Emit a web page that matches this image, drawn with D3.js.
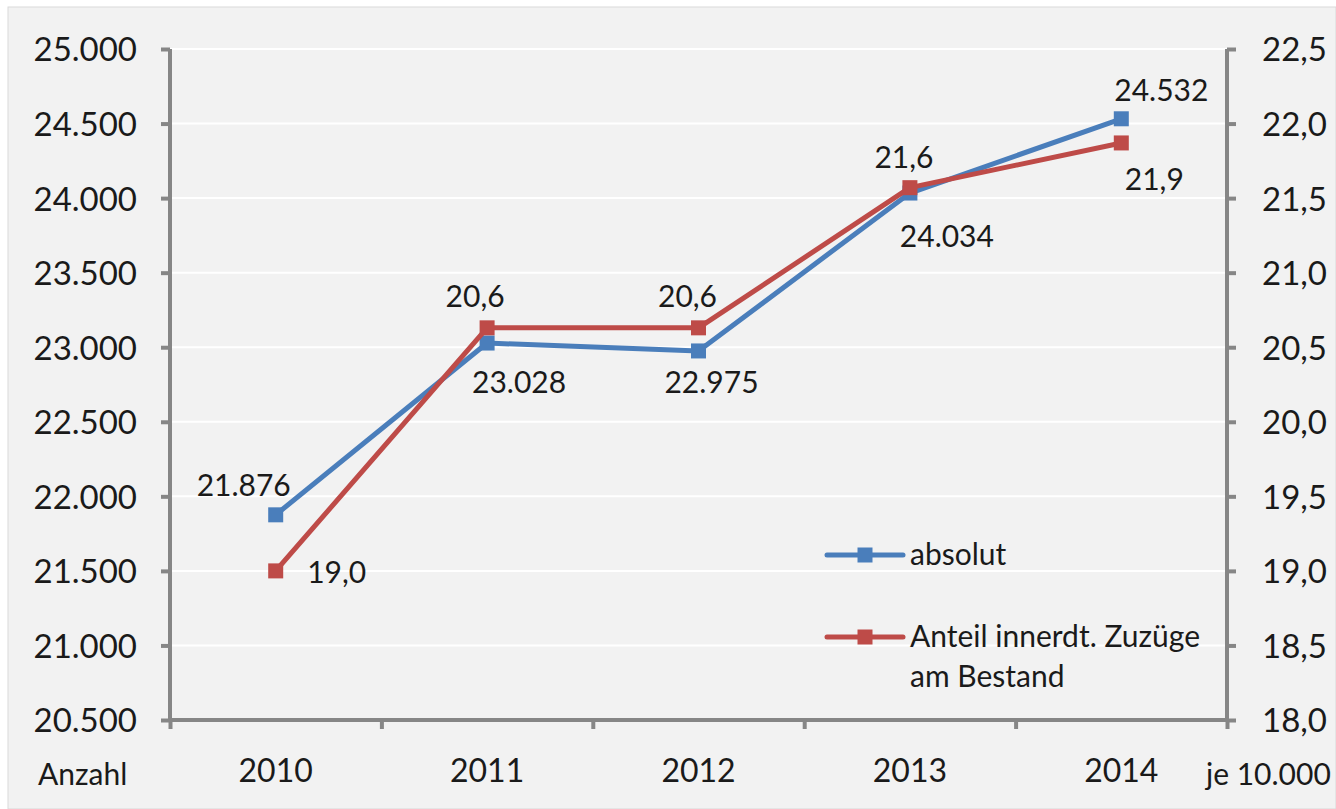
<!DOCTYPE html>
<html>
<head>
<meta charset="utf-8">
<script src="https://cdn.jsdelivr.net/npm/d3@7"></script>
<style>
  html, body { margin: 0; padding: 0; background: #ffffff; }
  svg { display: block; font-family: Lato, "Open Sans", sans-serif; }
</style>
</head>
<body>
<svg id="chart" width="1336" height="809"></svg>
<script>
// Years on the category axis
const years = ["2010", "2011", "2012", "2013", "2014"];
// Absolute number (left axis)
const absolut = [21876, 23028, 22975, 24034, 24532];
// Share of inner-German in-migrations per 10,000 of stock (right axis)
const anteil = [19.0, 20.63, 20.63, 21.57, 21.87];
// Tick values
const leftTicks = [20500, 21000, 21500, 22000, 22500, 23000, 23500, 24000, 24500, 25000];
const rightTicks = [18.0, 18.5, 19.0, 19.5, 20.0, 20.5, 21.0, 21.5, 22.0, 22.5];
// Series names
const seriesNames = ["absolut", "Anteil innerdt. Zuzüge", "am Bestand"];

// Label offsets (dx, dy of label centre from its marker)
const absLabelOffsets = [[-32, -30], [32, 39], [13, 31], [37, 43], [40, -29]];
const antLabelOffsets = [[61, 1], [-12, -32], [-11, -32], [-6, -31], [33, 36]];

const de = d3.formatLocale({ decimal: ",", thousands: ".", grouping: [3], currency: ["", " €"] });
const fmtAbs = de.format(",.0f");
const fmtAnt = de.format(",.1f");

const svg = d3.select("#chart");
const blue = "#4a7ebb", red = "#be4b48", axisGrey = "#868686", textCol = "#1a1a1a";

// Chart area panel
svg.append("rect")
  .attr("x", 8).attr("y", 7).attr("width", 1336 - 8).attr("height", 809 - 7)
  .attr("fill", "#f2f2f2").attr("stroke", "#d9d9d9").attr("stroke-width", 1);

const x0 = 170, x1 = 1227, yTop = 49, yBot = 720;
const x = d3.scaleBand().domain(years).range([x0, x1]);
const yL = d3.scaleLinear().domain([20500, 25000]).range([yBot, yTop]);
const yR = d3.scaleLinear().domain([18, 22.5]).range([yBot, yTop]);
const cx = d => x(d) + x.bandwidth() / 2;

// Horizontal gridlines
svg.append("g").selectAll("line").data(leftTicks).join("line")
  .attr("x1", x0).attr("x2", x1)
  .attr("y1", d => yL(d)).attr("y2", d => yL(d))
  .attr("stroke", "#ffffff").attr("stroke-width", 2);

// Left axis
const gL = svg.append("g").attr("transform", `translate(${x0},0)`)
  .call(d3.axisLeft(yL).tickValues(leftTicks).tickFormat(fmtAbs).tickSize(9).tickPadding(24));
// Right axis
const gR = svg.append("g").attr("transform", `translate(${x1},0)`)
  .call(d3.axisRight(yR).tickValues(rightTicks).tickFormat(fmtAnt).tickSize(9).tickPadding(26));
// Category axis: ticks on the boundaries between years
const xb = d3.scaleLinear().domain([0, years.length]).range([x0, x1]);
const gB = svg.append("g").attr("transform", `translate(0,${yBot})`)
  .call(d3.axisBottom(xb).tickValues(d3.range(years.length + 1)).tickFormat("").tickSize(9));

[gL, gR, gB].forEach(g => {
  g.select(".domain").attr("stroke", axisGrey).attr("stroke-width", 4);
  g.selectAll(".tick line").attr("stroke", axisGrey).attr("stroke-width", 4);
  g.selectAll(".tick text").attr("fill", textCol).style("font-size", "33px")
    .style("font-family", "Lato, 'Open Sans', sans-serif").attr("dy", "0.36em");
});
gL.select(".domain").attr("d", `M0,${yTop}V${yBot}`);
gR.select(".domain").attr("d", `M0,${yTop}V${yBot}`);
gB.select(".domain").attr("d", `M${x0},0H${x1}`);

// Year labels
svg.append("g").selectAll("text").data(years).join("text")
  .attr("x", d => cx(d)).attr("y", 782)
  .attr("text-anchor", "middle").attr("fill", textCol).style("font-size", "32px")
  .text(d => d);

// Axis unit captions
svg.append("text").attr("x", 38).attr("y", 785).attr("fill", textCol)
  .style("font-size", "30px").text("Anzahl");
svg.append("text").attr("x", 1206).attr("y", 785).attr("fill", textCol)
  .style("font-size", "30px").text("je 10.000");

// Series
function drawSeries(values, yScale, color) {
  const pts = values.map((v, i) => [cx(years[i]), yScale(v)]);
  svg.append("path").datum(pts)
    .attr("d", d3.line())
    .attr("fill", "none").attr("stroke", color).attr("stroke-width", 5)
    .attr("stroke-linejoin", "round").attr("stroke-linecap", "round");
  svg.append("g").selectAll("rect").data(pts).join("rect")
    .attr("x", d => d[0] - 7.5).attr("y", d => d[1] - 7.5)
    .attr("width", 15).attr("height", 15).attr("fill", color);
  return pts;
}
const absPts = drawSeries(absolut, yL, blue);
const antPts = drawSeries(anteil, yR, red);

// Data labels
function drawLabels(values, pts, offsets, fmt) {
  svg.append("g").selectAll("text").data(values).join("text")
    .attr("x", (d, i) => pts[i][0] + offsets[i][0])
    .attr("y", (d, i) => pts[i][1] + offsets[i][1] + 11)
    .attr("text-anchor", "middle").attr("fill", textCol).style("font-size", "30px")
    .text(d => fmt(d));
}
drawLabels(absolut, absPts, absLabelOffsets, fmtAbs);
drawLabels(anteil, antPts, antLabelOffsets, fmtAnt);

// Legend
const legend = svg.append("g");
const legendItems = [
  { color: blue, y: 555, lines: [seriesNames[0]] },
  { color: red, y: 637, lines: [seriesNames[1], seriesNames[2]] }
];
legendItems.forEach(item => {
  legend.append("line").attr("x1", 827).attr("x2", 903).attr("y1", item.y).attr("y2", item.y)
    .attr("stroke", item.color).attr("stroke-width", 5).attr("stroke-linecap", "round");
  legend.append("rect").attr("x", 865 - 7.5).attr("y", item.y - 7.5)
    .attr("width", 15).attr("height", 15).attr("fill", item.color);
  item.lines.forEach((t, k) => {
    legend.append("text").attr("x", 910).attr("y", item.y + 10 + k * 40)
      .attr("fill", textCol).style("font-size", "30px").text(t);
  });
});
</script>
</body>
</html>
